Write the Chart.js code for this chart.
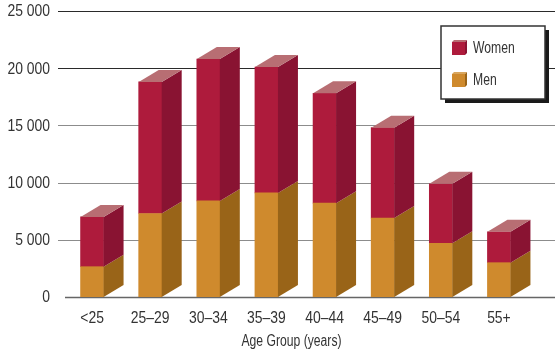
<!DOCTYPE html>
<html lang="en">
<head>
    <meta charset="UTF-8">
    <title>Age Group Chart</title>
    <script src="https://cdn.jsdelivr.net/npm/chart.js"></script>
    <style>
        html, body { margin: 0; padding: 0; background: #fff; }
        #wrap { width: 555px; height: 355px; }
    </style>
</head>
<body>
    <div id="wrap"><canvas id="ageChart" width="555" height="355"></canvas></div>

    <script>
        // Values
        const ageGroups = ['<25', '25\u201329', '30\u201334', '35\u201339', '40\u201344', '45\u201349', '50\u201354', '55+'];
        const menValues = [2650, 7300, 8400, 9100, 8200, 6900, 4700, 3000];
        const womenValues = [4350, 11500, 12400, 11000, 9600, 7900, 5200, 2700];
        const yTickValues = [0, 5000, 10000, 15000, 20000, 25000];
        const xTitle = 'Age Group (years)';

        const FONT = "16px 'Liberation Sans', Arial, sans-serif";
        const TEXT = '#333333';
        // the original type is a condensed face, so text is squeezed sideways
        const DIGIT_SQUEEZE = 0.87;
        const WORD_SQUEEZE = 0.76;

        const colors = {
            men:   { front: '#CF8A2D', side: '#996418', top: '#D9A65E' },
            women: { front: '#AE1B3C', side: '#891332', top: '#B86E73' }
        };

        function squeezedText(ctx, text, x, y, align, squeeze) {
            ctx.save();
            ctx.translate(x, y);
            ctx.scale(squeeze, 1);
            ctx.textAlign = align;
            ctx.fillText(text, 0, 0);
            ctx.restore();
        }

        // y grid lines from the scale, a bit wider than the chart area
        const gridPlugin = {
            id: 'gridLines',
            beforeDatasetsDraw(chart) {
                const ctx = chart.ctx;
                const y = chart.scales.y;
                ctx.save();
                yTickValues.forEach(v => {
                    const py = Math.round(y.getPixelForValue(v)) + 0.5;
                    ctx.beginPath();
                    ctx.lineWidth = v === 0 ? 1.5 : 1;
                    ctx.strokeStyle = v >= 20000 ? '#2a2a2a' : (v === 0 ? '#666666' : '#8c8c8c');
                    ctx.moveTo(v === 0 ? 65 : 58, py);
                    ctx.lineTo(chart.width, py);
                    ctx.stroke();
                });
                ctx.restore();
            }
        };

        // side and top faces for the 3D look
        const depthPlugin = {
            id: 'depth3d',
            afterDatasetsDraw(chart) {
                const ctx = chart.ctx;
                const dx = 20, dy = 12;
                const last = chart.data.datasets.length - 1;
                ctx.save();
                chart.data.datasets.forEach((ds, i) => {
                    const meta = chart.getDatasetMeta(i);
                    meta.data.forEach(bar => {
                        const r = bar.x + bar.width / 2;
                        const l = bar.x - bar.width / 2;
                        ctx.fillStyle = ds.sideColor;
                        ctx.beginPath();
                        ctx.moveTo(r, bar.y);
                        ctx.lineTo(r + dx, bar.y - dy);
                        ctx.lineTo(r + dx, bar.base - dy);
                        ctx.lineTo(r, bar.base);
                        ctx.closePath();
                        ctx.fill();
                        if (i === last) {
                            ctx.fillStyle = ds.topColor;
                            ctx.beginPath();
                            ctx.moveTo(l, bar.y);
                            ctx.lineTo(l + dx, bar.y - dy);
                            ctx.lineTo(r + dx, bar.y - dy);
                            ctx.lineTo(r, bar.y);
                            ctx.closePath();
                            ctx.fill();
                        }
                    });
                });
                ctx.restore();
            }
        };

        // axis labels, placed from the chart's own scales
        const labelPlugin = {
            id: 'axisLabels',
            afterDraw(chart) {
                const ctx = chart.ctx;
                const x = chart.scales.x, y = chart.scales.y;
                ctx.save();
                ctx.font = FONT;
                ctx.fillStyle = TEXT;
                ctx.textBaseline = 'middle';
                yTickValues.forEach(v => {
                    const label = String(v).replace(/\B(?=(\d{3})+(?!\d))/g, ' ');
                    squeezedText(ctx, label, 50, y.getPixelForValue(v) + 1, 'right', DIGIT_SQUEEZE);
                });
                chart.data.labels.forEach((lab, i) => {
                    squeezedText(ctx, lab, x.getPixelForTick(i), 319, 'center', DIGIT_SQUEEZE);
                });
                squeezedText(ctx, xTitle, (chart.chartArea.left + chart.chartArea.right) / 2 - 4, 342, 'center', WORD_SQUEEZE);
                ctx.restore();
            }
        };

        // boxed legend with drop shadow, top right
        const legendPlugin = {
            id: 'boxLegend',
            afterDraw(chart) {
                const ctx = chart.ctx;
                const bx = 441, by = 26, bw = 104, bh = 73;
                ctx.save();
                ctx.fillStyle = '#1a1a1a';
                ctx.fillRect(bx + 4, by + 4, bw, bh);
                ctx.fillStyle = '#ffffff';
                ctx.fillRect(bx, by, bw, bh);
                ctx.strokeStyle = '#333333';
                ctx.lineWidth = 1.5;
                ctx.strokeRect(bx, by, bw, bh);

                const entries = [chart.data.datasets[1], chart.data.datasets[0]];
                entries.forEach((ds, k) => {
                    const sx = 452, sy = 42 + k * 32, s = 13;
                    ctx.fillStyle = ds.topColor;
                    ctx.beginPath();
                    ctx.moveTo(sx, sy); ctx.lineTo(sx + 2, sy - 2);
                    ctx.lineTo(sx + s + 2, sy - 2); ctx.lineTo(sx + s, sy);
                    ctx.closePath(); ctx.fill();
                    ctx.fillStyle = ds.sideColor;
                    ctx.beginPath();
                    ctx.moveTo(sx + s, sy); ctx.lineTo(sx + s + 2, sy - 2);
                    ctx.lineTo(sx + s + 2, sy + s - 2); ctx.lineTo(sx + s, sy + s);
                    ctx.closePath(); ctx.fill();
                    ctx.fillStyle = ds.backgroundColor;
                    ctx.fillRect(sx, sy, s, s);

                    ctx.fillStyle = TEXT;
                    ctx.font = FONT;
                    ctx.textBaseline = 'middle';
                    squeezedText(ctx, ds.label, 473, sy + 7, 'left', WORD_SQUEEZE);
                });
                ctx.restore();
            }
        };

        new Chart(document.getElementById('ageChart'), {
            type: 'bar',
            data: {
                labels: ageGroups,
                datasets: [
                    {
                        label: 'Men',
                        data: menValues,
                        backgroundColor: colors.men.front,
                        sideColor: colors.men.side,
                        topColor: colors.men.top,
                        barThickness: 23
                    },
                    {
                        label: 'Women',
                        data: womenValues,
                        backgroundColor: colors.women.front,
                        sideColor: colors.women.side,
                        topColor: colors.women.top,
                        barThickness: 23
                    }
                ]
            },
            options: {
                responsive: false,
                animation: false,
                layout: { padding: { top: 11, right: 27, bottom: 0, left: 0 } },
                plugins: {
                    legend: { display: false },
                    tooltip: { enabled: false }
                },
                scales: {
                    x: {
                        stacked: true,
                        grid: { display: false, drawTicks: false, tickLength: 0 },
                        border: { display: false },
                        ticks: { display: false },
                        afterFit(scale) { scale.height = 58; }
                    },
                    y: {
                        stacked: true,
                        min: 0,
                        max: 25000,
                        grid: { display: false, drawTicks: false, tickLength: 0 },
                        border: { display: false },
                        ticks: { display: false, stepSize: 5000 },
                        afterFit(scale) { scale.width = 63; }
                    }
                }
            },
            plugins: [gridPlugin, depthPlugin, labelPlugin, legendPlugin]
        });
    </script>
</body>
</html>
